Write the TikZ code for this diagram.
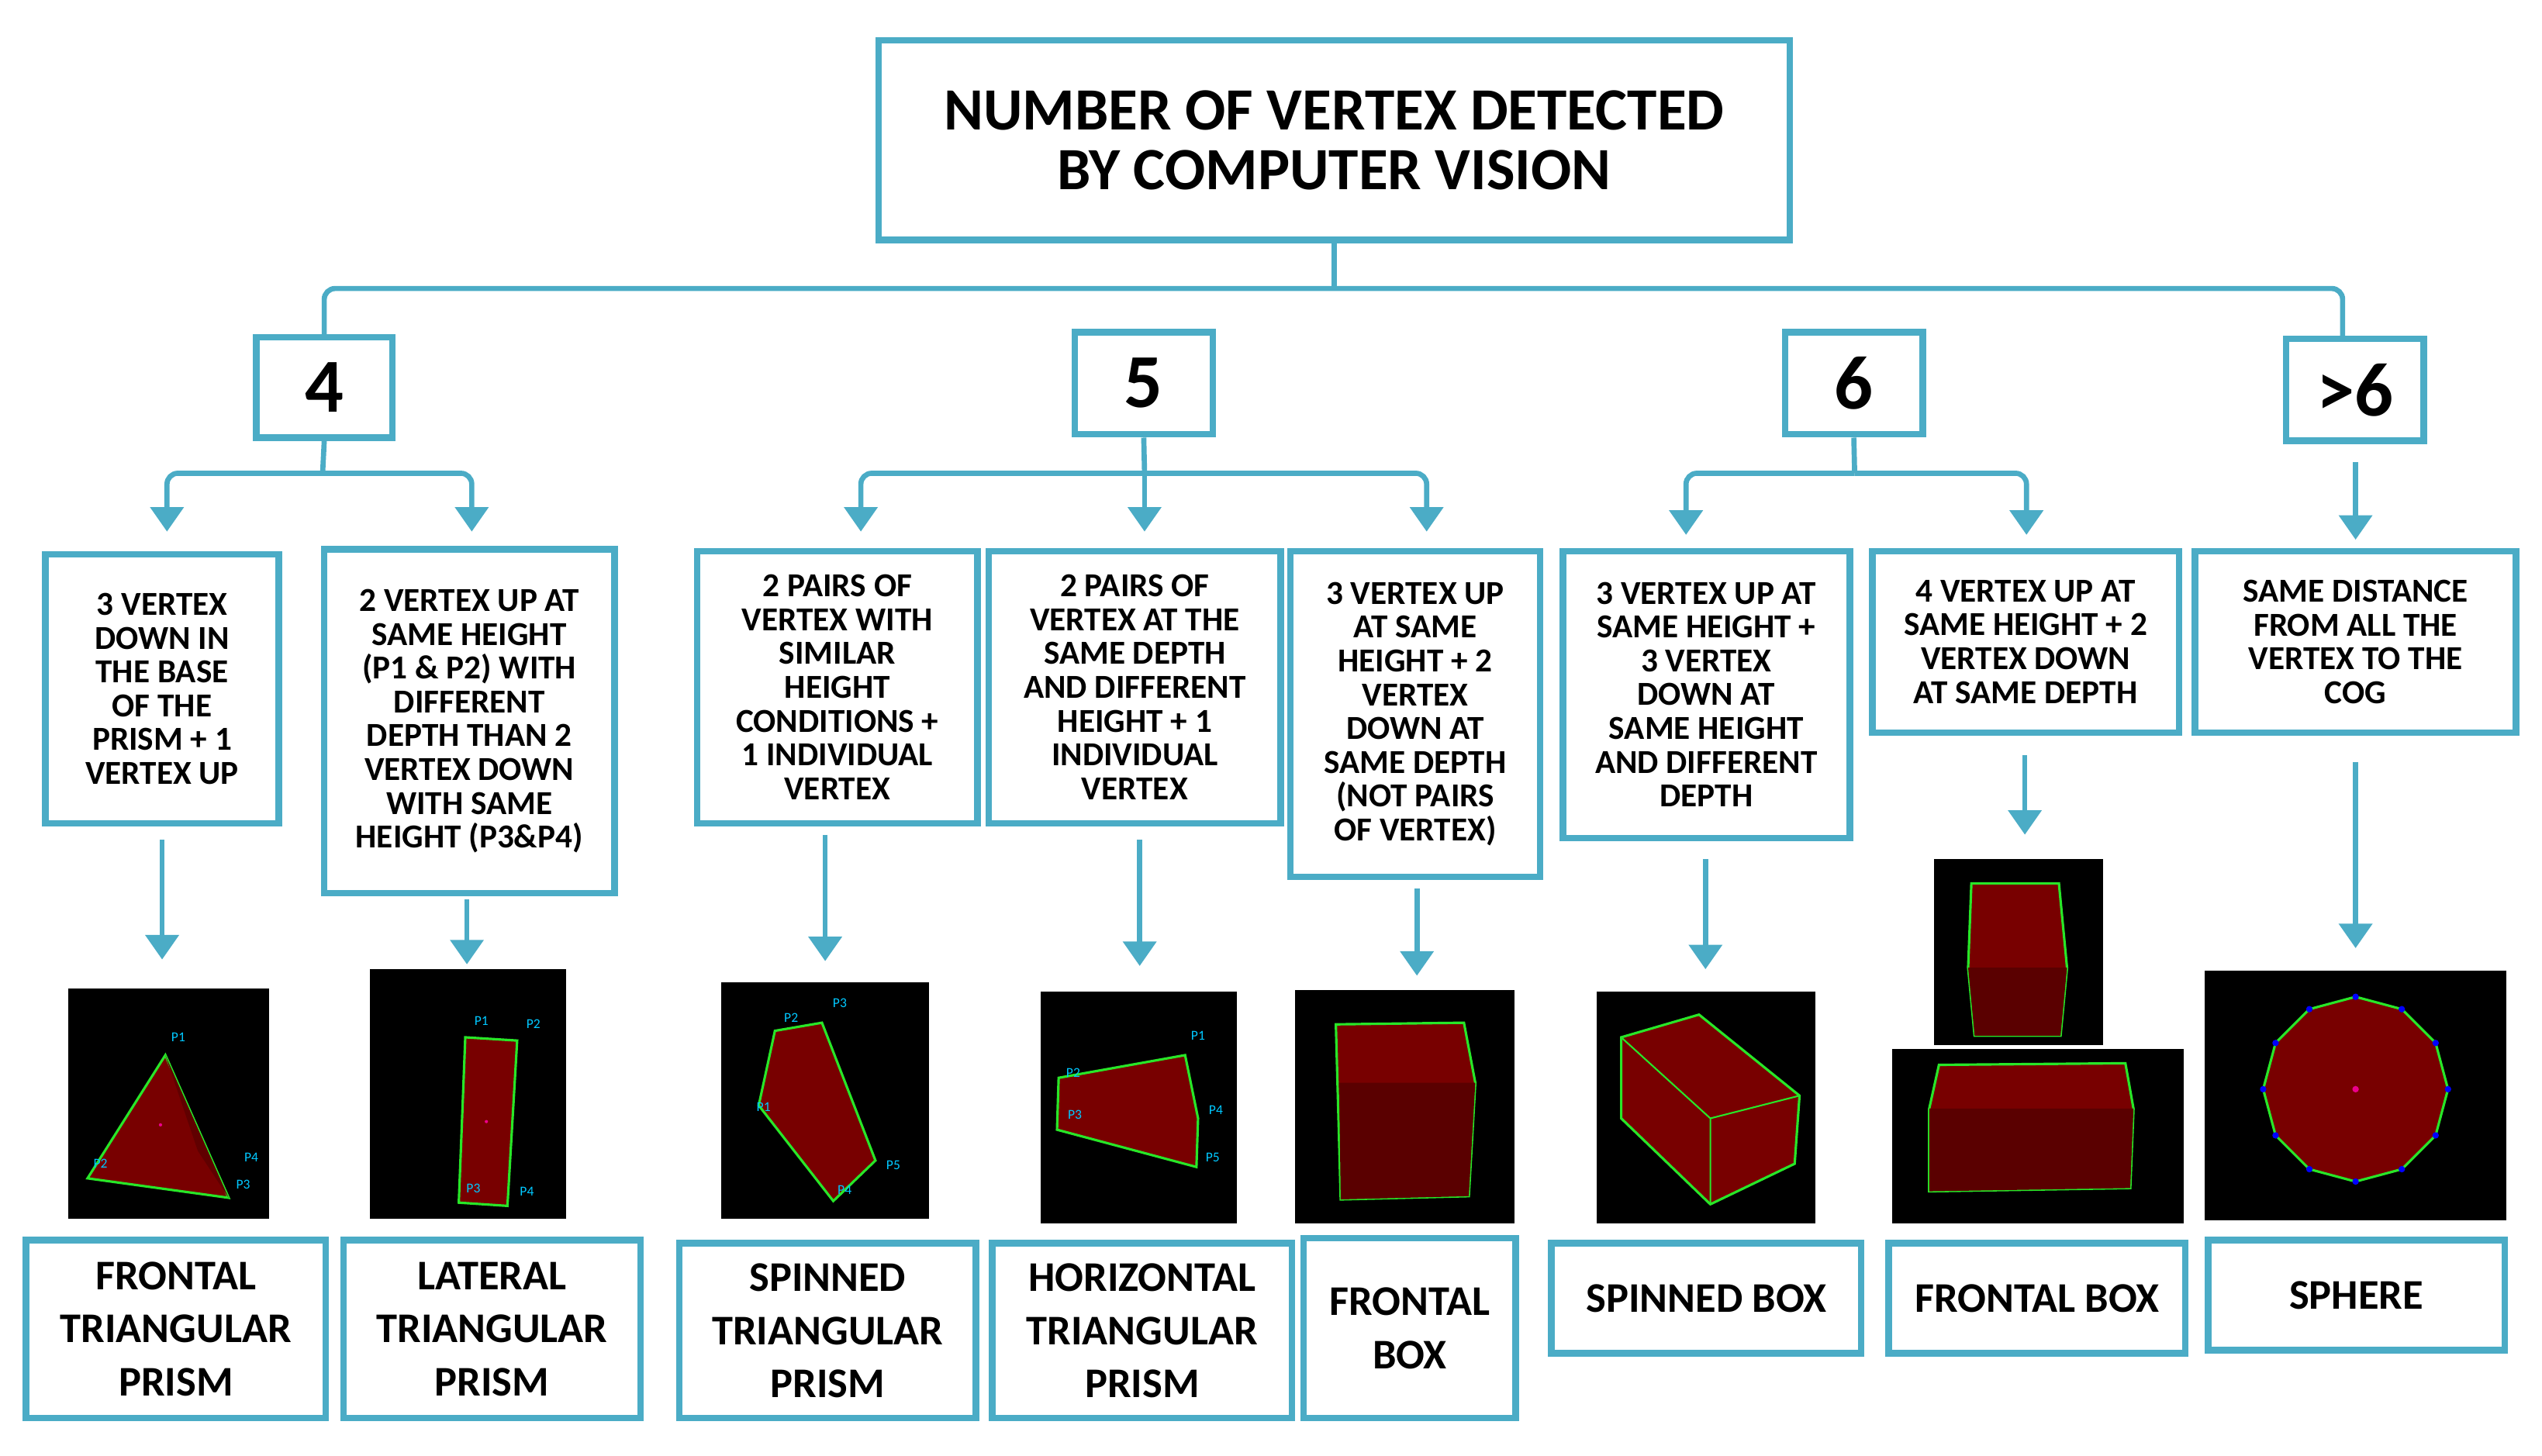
\documentclass[tikz,border=0pt]{standalone}
\usepackage{fontspec}
\setmainfont{Carlito}
\usetikzlibrary{fit,arrows.meta}
\definecolor{teal}{RGB}{75,172,198}
\definecolor{dred}{RGB}{120,0,0}
\definecolor{gr}{RGB}{40,230,40}
\definecolor{cy}{RGB}{0,200,255}
\tikzset{
 box/.style={draw=teal,line width=2.4pt,inner sep=0pt},
 con/.style={draw=teal,line width=1.9pt,rounded corners=4pt},
 arr/.style={con,-{Stealth[length=9pt,width=12pt,inset=0pt]}},
 img/.style={fill=black,inner sep=0pt},
 solid/.style={fill=dred,draw=gr,line width=0.9pt},
 pl/.style={text=cy,font=\fontsize{5}{5}\selectfont,inner sep=0pt},
}
\newcommand\bx[7]{\node[box,fit={(#2,#3)(#4,#5)}] (#1) {};
 \node[align=center,font=#7] (#1t) at (#1.center) {#6};}
\begin{document}
\begin{tikzpicture}[x=0.020906cm,y=-0.020906cm]
\useasboundingbox (0,0) rectangle (1568,898);
\bx{title}{542}{25}{1104}{148}{NUMBER OF VERTEX DETECTED\\[-1pt]BY COMPUTER VISION}{\bfseries\fontsize{22}{23}\selectfont}
\bx{n4}{158}{208}{242}{270}{4}{\bfseries\fontsize{28}{30}\selectfont}
\bx{n5}{663}{205}{748}{268}{5}{\bfseries\fontsize{28}{30}\selectfont}
\bx{n6}{1101}{205}{1186}{268}{6}{\bfseries\fontsize{28}{30}\selectfont}
\bx{n7}{1410}{209}{1495}{272}{>6}{\bfseries\fontsize{28}{30}\selectfont}
\coordinate (tl) at (200,208); \coordinate (tr) at (1445,209);
\draw[con] (tl) |- (823,178) -| (tr);
\draw[con] (title.south) -- (823,178);
\def\sf{\bfseries\fontsize{12.3}{12.4}\selectfont}
\bx{dA}{28}{342}{172}{508}{3 VERTEX\\DOWN IN\\THE BASE\\OF THE\\PRISM + 1\\VERTEX UP}{\sf}
\bx{dB}{200}{339}{379}{551}{2 VERTEX UP AT\\SAME HEIGHT\\(P1 \& P2) WITH\\DIFFERENT\\DEPTH THAN 2\\VERTEX DOWN\\WITH SAME\\HEIGHT (P3\&P4)}{\sf}
\bx{dC}{430}{340}{603}{508}{2 PAIRS OF\\VERTEX WITH\\SIMILAR\\HEIGHT\\CONDITIONS +\\1 INDIVIDUAL\\VERTEX}{\sf}
\bx{dD}{610}{340}{790}{508}{2 PAIRS OF\\VERTEX AT THE\\SAME DEPTH\\AND DIFFERENT\\HEIGHT + 1\\INDIVIDUAL\\VERTEX}{\sf}
\bx{dE}{796}{340}{950}{541}{3 VERTEX UP\\AT SAME\\HEIGHT + 2\\VERTEX\\DOWN AT\\SAME DEPTH\\(NOT PAIRS\\OF VERTEX)}{\sf}
\bx{dF}{964}{340}{1141}{517}{3 VERTEX UP AT\\SAME HEIGHT +\\3 VERTEX\\DOWN AT\\SAME HEIGHT\\AND DIFFERENT\\DEPTH}{\sf}
\bx{dG}{1155}{340}{1344}{452}{4 VERTEX UP AT\\SAME HEIGHT + 2\\VERTEX DOWN\\AT SAME DEPTH}{\sf}
\bx{dH}{1354}{340}{1552}{452}{SAME DISTANCE\\FROM ALL THE\\VERTEX TO THE\\COG}{\sf}
% level 2 connectors
\draw[con] (n4.south) -- (199,292);
\draw[arr] (199,292) -| (103,328);
\draw[arr] (199,292) -| (291,328);
\draw[con] (n5.south) -- (706,292);
\draw[arr] (706,292) -| (531,328);
\draw[arr] (706,292) -- (706,328);
\draw[arr] (706,292) -| (880,328);
\draw[con] (n6.south) -- (1144,292);
\draw[arr] (1144,292) -| (1040,330);
\draw[arr] (1144,292) -| (1250,330);
\coordinate (a7) at (1453,285);
\draw[arr] (a7) -- (1453,333);
% images
\node[img,fit={(42,610)(166,752)}] (iA) {};
\node[img,fit={(228,598)(349,752)}] (iB) {};
\node[img,fit={(445,606)(573,752)}] (iC) {};
\node[img,fit={(642,612)(763,755)}] (iD) {};
\node[img,fit={(799,611)(934,755)}] (iE) {};
\node[img,fit={(985,612)(1120,755)}] (iF) {};
\node[img,fit={(1193,530)(1297,645)}] (iG1) {};
\node[img,fit={(1167,647)(1347,755)}] (iG) {};
\node[img,fit={(1360,599)(1546,753)}] (iH) {};
\draw[arr] (100,518) -- (100,592);
\draw[arr] (288,555) -- (288,595);
\draw[arr] (509,515) -- (509,593);
\draw[arr] (703,518) -- (703,596);
\draw[arr] (874,548) -- (874,602);
\draw[arr] (1052,530) -- (1052,598);
\draw[arr] (1249,466) -- (1249,515);
\draw[arr] (1453,470) -- (1453,585);
% solids
\draw[solid] (102,651)--(54,727)--(141,739)--cycle;
\fill[black!20!dred] (102,651)--(141,739)--(122,710)--cycle;
\node[pl] at (110,640){P1};\node[pl] at (62,718){P2};\node[pl] at (150,731){P3};\node[pl] at (155,714){P4};
\fill[magenta] (99,694) circle (1);
\draw[solid] (287,640)--(319,642)--(313,744)--(283,742)--cycle;
\node[pl] at (297,630){P1};\node[pl] at (329,632){P2};\node[pl] at (292,733){P3};\node[pl] at (325,735){P4};
\fill[magenta] (300,692) circle (1);
\draw[solid] (478,636)--(507,631)--(540,716)--(514,741)--(468,682)--cycle;
\node[pl] at (488,628){P2};\node[pl] at (518,619){P3};\node[pl] at (471,683){P1};\node[pl] at (551,719){P5};\node[pl] at (521,734){P4};
\draw[solid] (653,665)--(731,651)--(739,690)--(738,720)--(652,697)--cycle;
\node[pl] at (739,639){P1};\node[pl] at (662,662){P2};\node[pl] at (663,688){P3};\node[pl] at (750,685){P4};\node[pl] at (748,714){P5};
\draw[solid] (824,632)--(903,631)--(910,668)--(906,738)--(827,740)--cycle;
\fill[black!25!dred] (826,668)--(910,668)--(906,738)--(827,740)--cycle;
\draw[solid] (1000,640)--(1048,626)--(1110,676)--(1107,718)--(1055,743)--(1000,690)--cycle;
\draw[gr,line width=0.6pt] (1000,640)--(1055,690)--(1110,676) (1055,690)--(1055,743);
\draw[solid] (1216,545)--(1270,545)--(1275,597)--(1271,639)--(1218,639)--(1214,597)--cycle;
\fill[black!25!dred] (1214,597)--(1275,597)--(1271,639)--(1218,639)--cycle;
\draw[solid] (1196,657)--(1311,656)--(1316,684)--(1314,733)--(1190,735)--(1190,684)--cycle;
\fill[black!25!dred] (1190,684)--(1316,684)--(1314,733)--(1190,735)--cycle;
\draw[solid] (1453,672) +(0:57) \foreach \a in {30,60,...,330}{ -- +(\a:57)} -- cycle;
\foreach \a in {0,30,...,330} \fill[blue] (1453,672)+(\a:57) circle (2);
\fill[magenta] (1453,672) circle (2);
% labels
\def\lf{\bfseries\fontsize{15.5}{19.5}\selectfont}
\bx{lA}{16}{765}{201}{875}{FRONTAL\\TRIANGULAR\\PRISM}{\lf}
\bx{lB}{212}{765}{395}{875}{LATERAL\\TRIANGULAR\\PRISM}{\lf}
\bx{lC}{419}{767}{602}{875}{SPINNED\\TRIANGULAR\\PRISM}{\lf}
\bx{lD}{612}{767}{797}{875}{HORIZONTAL\\TRIANGULAR\\PRISM}{\lf}
\bx{lE}{804}{764}{935}{875}{FRONTAL\\BOX}{\lf}
\bx{lF}{957}{767}{1148}{835}{SPINNED BOX}{\lf}
\bx{lG}{1165}{767}{1348}{835}{FRONTAL BOX}{\lf}
\bx{lH}{1362}{765}{1545}{833}{SPHERE}{\lf}
\end{tikzpicture}
\end{document}
